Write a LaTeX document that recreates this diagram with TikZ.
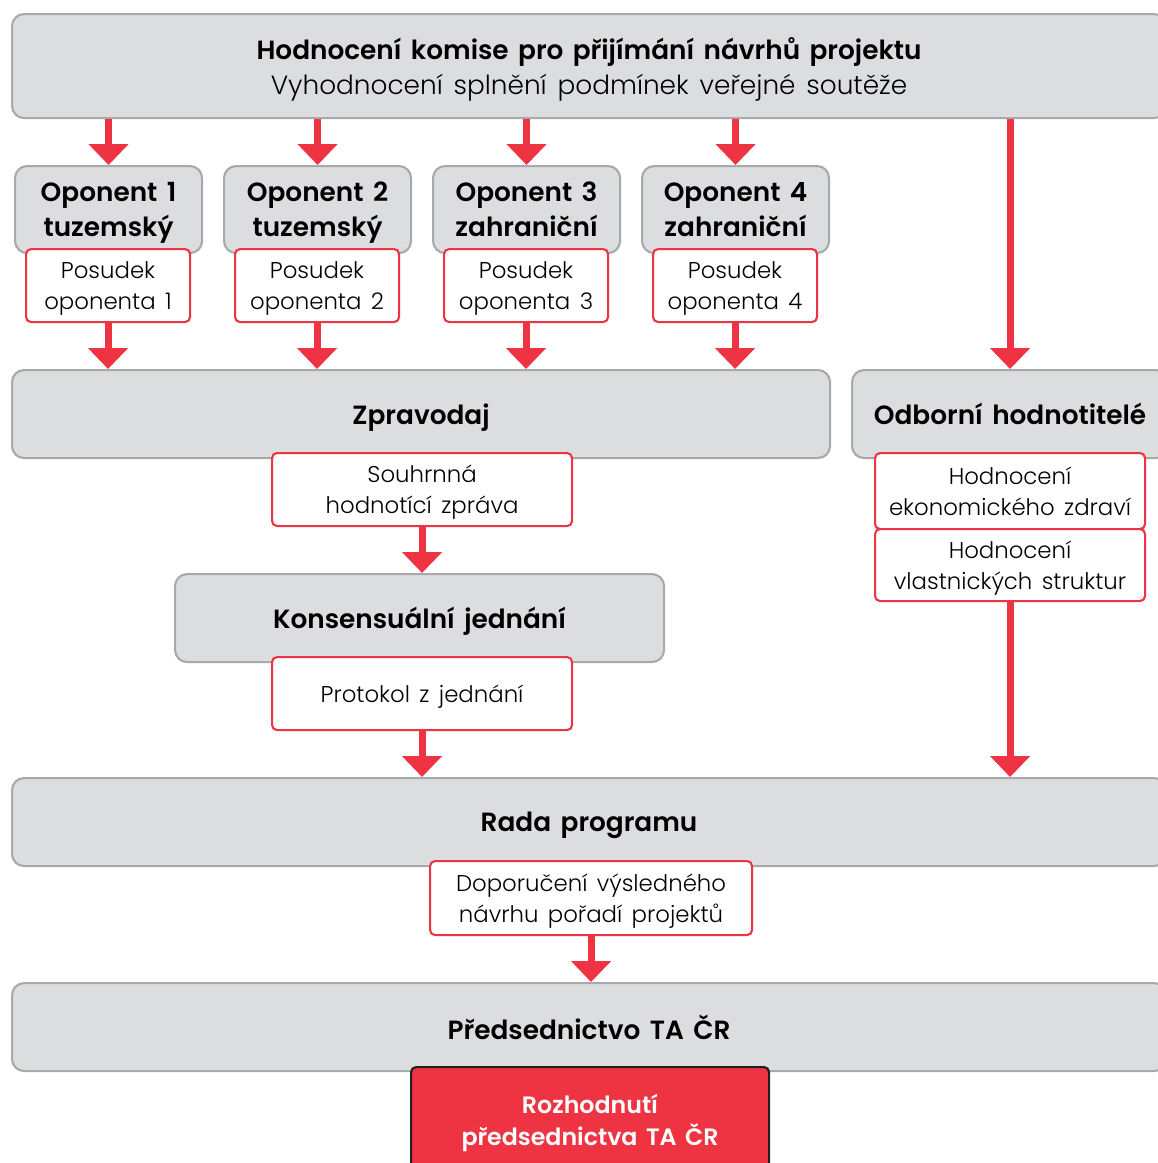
\documentclass[tikz,border=0pt]{standalone}
\usepackage{fontspec}
\setmainfont{Poppins}[UprightFont={Poppins Light}, BoldFont={Poppins SemiBold}, WordSpace=1.5]
\usetikzlibrary{arrows.meta}
\definecolor{boxgrey}{HTML}{DCDDDF}
\definecolor{edgegrey}{HTML}{A8A9AD}
\definecolor{tacred}{HTML}{EE3342}
\definecolor{darkedge}{HTML}{231F20}
\newcommand\pxl{0.02cm}
\tikzset{
  base/.style={anchor=north west, inner sep=0pt, align=center, text=black, text depth=0pt},
  greybox/.style={base, draw=edgegrey, fill=boxgrey, line width=1.2pt, rounded corners=0.24cm,
    font=\fontsize{15}{20}\selectfont\bfseries},
  whitebox/.style={base, draw=tacred, fill=white, line width=1.2pt, rounded corners=0.1cm,
    font=\fontsize{13}{17.8}\selectfont},
  decisionbox/.style={base, draw=darkedge, fill=tacred, line width=1.2pt, rounded corners=0.1cm,
    text=white, font=\fontsize{13.5}{18}\selectfont\bfseries},
  arr/.style={draw=tacred, line width=0.14cm, -{Triangle[width=0.78cm,length=0.42cm]}}
}
\begin{document}
\begin{tikzpicture}[x=0.02cm,y=-0.02cm]
\useasboundingbox (0,0) rectangle (1158,1163);
\clip (0,0) rectangle (1158,1163);
% grey boxes
\node[greybox, minimum width=1154*\pxl, minimum height=104*\pxl,
  font=\fontsize{15}{20.2}\selectfont] (top) at (11,13)
  {{\bfseries Hodnocení komise pro přijímání návrhů projektu}\\Vyhodnocení splnění podmínek veřejné soutěže};
\node[greybox, minimum width=187*\pxl, minimum height=87*\pxl] (op1) at (14,165) {Oponent 1\\tuzemský};
\node[greybox, minimum width=187*\pxl, minimum height=87*\pxl] (op2) at (223,165) {Oponent 2\\tuzemský};
\node[greybox, minimum width=187*\pxl, minimum height=87*\pxl] (op3) at (432,165) {Oponent 3\\zahraniční};
\node[greybox, minimum width=187*\pxl, minimum height=87*\pxl] (op4) at (641,165) {Oponent 4\\zahraniční};
\node[greybox, minimum width=818*\pxl, minimum height=88*\pxl] (zprav) at (11,369) {Zpravodaj};
\node[greybox, minimum width=316*\pxl, minimum height=88*\pxl] (odb) at (851,369) {Odborní hodnotitelé};
\node[greybox, minimum width=489*\pxl, minimum height=88*\pxl] (kons) at (174,573) {Konsensuální jednání};
\node[greybox, minimum width=1154*\pxl, minimum height=88*\pxl] (rada) at (11,777) {Rada programu};
\node[greybox, minimum width=1154*\pxl, minimum height=88*\pxl] (pred) at (11,982) {Předsednictvo TA ČR};
% white boxes
\node[whitebox, minimum width=164*\pxl, minimum height=73*\pxl] (pos1) at (25,248) {Posudek\\oponenta 1};
\node[whitebox, minimum width=164*\pxl, minimum height=73*\pxl] (pos2) at (234,248) {Posudek\\oponenta 2};
\node[whitebox, minimum width=164*\pxl, minimum height=73*\pxl] (pos3) at (443,248) {Posudek\\oponenta 3};
\node[whitebox, minimum width=164*\pxl, minimum height=73*\pxl] (pos4) at (652,248) {Posudek\\oponenta 4};
\node[whitebox, minimum width=300*\pxl, minimum height=73*\pxl] (souhrn) at (271,452) {Souhrnná\\hodnotící zpráva};
\node[whitebox, minimum width=300*\pxl, minimum height=73*\pxl] (prot) at (271,656) {Protokol z jednání};
\node[whitebox, minimum width=270*\pxl, minimum height=76*\pxl] (ek) at (874,452) {Hodnocení\\ekonomického zdraví};
\node[whitebox, minimum width=270*\pxl, minimum height=72*\pxl] (vl) at (874,528) {Hodnocení\\vlastnických struktur};
\node[whitebox, minimum width=322*\pxl, minimum height=74*\pxl] (dop) at (429,860) {Doporučení výsledného\\návrhu pořadí projektů};
\node[decisionbox, minimum width=358*\pxl, minimum height=106*\pxl] (rozh) at (410,1066) {Rozhodnutí\\předsednictva TA ČR};
% arrows
\draw[arr] (op1.north |- top.south) -- (op1.north);
\draw[arr] (op2.north |- top.south) -- (op2.north);
\draw[arr] (op3.north |- top.south) -- (op3.north);
\draw[arr] (op4.north |- top.south) -- (op4.north);
\draw[arr] (ek.north |- top.south) -- (ek.north |- odb.north);
\draw[arr] (pos1.south) -- (pos1.south |- zprav.north);
\draw[arr] (pos2.south) -- (pos2.south |- zprav.north);
\draw[arr] (pos3.south) -- (pos3.south |- zprav.north);
\draw[arr] (pos4.south) -- (pos4.south |- zprav.north);
\draw[arr] (souhrn.south) -- (souhrn.south |- kons.north);
\draw[arr] (prot.south) -- (prot.south |- rada.north);
\draw[arr] (vl.south) -- (vl.south |- rada.north);
\draw[arr] (dop.south) -- (dop.south |- pred.north);
\end{tikzpicture}
\end{document}
